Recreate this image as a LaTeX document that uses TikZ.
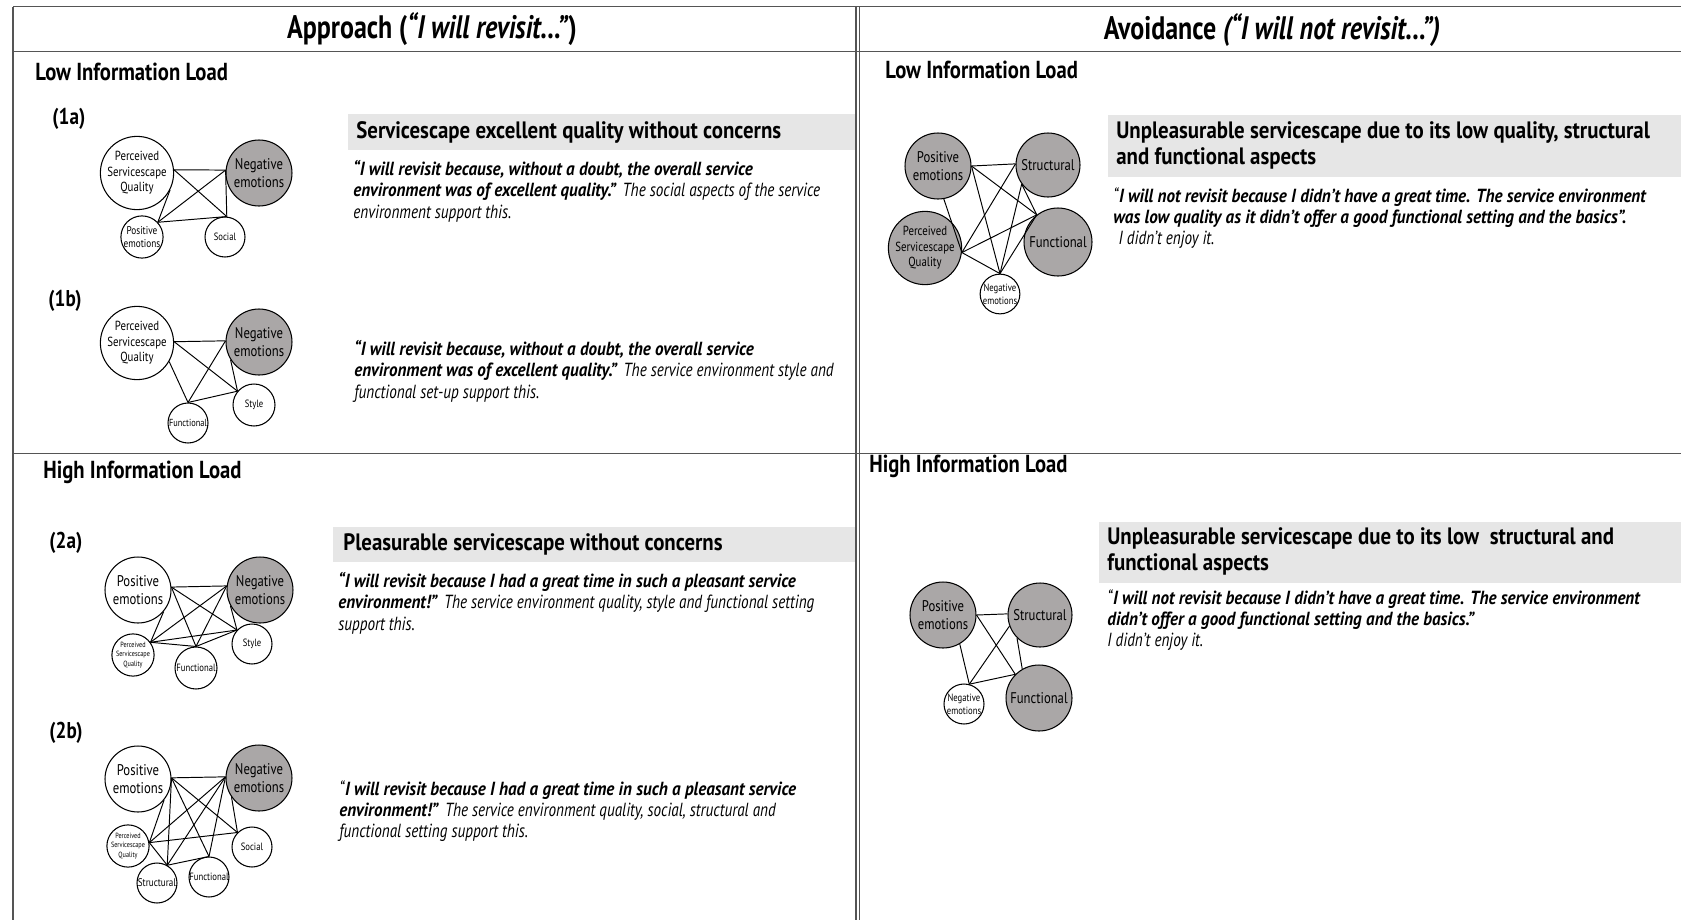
\documentclass[tikz,border=0pt]{standalone}
\usepackage{fontspec}
\setmainfont{PT Sans}[FakeStretch=0.76]
\newfontfamily\nf{PT Sans}[FakeStretch=0.82]
\newfontfamily\hdf{PT Sans}[FakeStretch=0.8]
\newfontfamily\secf{PT Sans}[FakeStretch=0.84]
\newfontfamily\ttlf{PT Sans}[FakeStretch=0.88]
\newfontfamily\bodyf{PT Sans}[FakeStretch=0.9]
\newfontfamily\litf{PT Sans}[FakeStretch=0.8]
\newcommand\bfit[1]{\textbf{\textit{#1}}}
\newcommand\lit[1]{{\litf\itshape #1}}
\definecolor{neggray}{RGB}{170,167,167}
\definecolor{boxgray}{RGB}{230,230,230}
\definecolor{rulec}{RGB}{85,85,85}
\begin{document}
\begin{tikzpicture}[x=0.02cm,y=-0.02cm,
  circ/.style={circle,draw=black,line width=0.6pt,inner sep=0pt,align=center,fill=white},
  ng/.style={fill=neggray},
  ln/.style={line width=0.55pt,black},
  rl/.style={line width=1pt,draw=rulec},
  hd/.style={font=\hdf\fontsize{18.5}{21}\selectfont\bfseries,inner sep=0pt},
  sec/.style={font=\secf\fontsize{14}{16}\selectfont\bfseries,anchor=west,inner sep=0pt},
  lab/.style={font=\secf\fontsize{13}{15}\selectfont\bfseries,anchor=west,inner sep=0pt},
  ttl/.style={font=\ttlf\fontsize{13.5}{15.2}\selectfont\bfseries,align=left,inner sep=0pt},
  body/.style={font=\bodyf\fontsize{10.8}{12.2}\selectfont,align=left,anchor=north west,inner sep=0pt},
  fbig/.style={font=\nf\fontsize{8.8}{10.4}\selectfont},
  fpsq/.style={font=\nf\fontsize{7.5}{8.9}\selectfont},
  fsm/.style={font=\nf\fontsize{6}{7}\selectfont},
  ftiny/.style={font=\nf\fontsize{4.3}{5.2}\selectfont},
]
\useasboundingbox (0,0) rectangle (1681,920);
% table rules
\draw[rl] (13,6.5) -- (1681,6.5);
\draw[rl] (13,51.5) -- (1681,51.5);
\draw[rl] (13,6.5) -- (13,920);
\draw[rl] (856,6.5) -- (856,920);
\draw[rl] (859.5,6.5) -- (859.5,920);
\draw[rl] (13,453.5) -- (1681,453.5);
% headers
\node[hd] (hl) at (432,29) {Approach (\textit{“I will revisit...”})};
\node[hd] (hr) at (1272,30) {Avoidance \textit{(“I will not revisit...”)}};
% section labels
\node[sec] (lowl) at (35,72) {Low Information Load};
\node[sec] (highl) at (43,472) {High Information Load};
\node[sec] (lowr) at (885,70) {Low Information Load};
\node[sec] (highr) at (869,466) {High Information Load};
\node[lab] (l1a) at (52,119) {(1a)};
\node[lab] (l1b) at (48,301) {(1b)};
\node[lab] (l2a) at (49,543) {(2a)};
\node[lab] (l2b) at (49,733) {(2b)};
% gray title boxes
\fill[boxgray] (348,114) rectangle (855,150);
\fill[boxgray] (333,527) rectangle (855,562);
\fill[boxgray] (1108,115) rectangle (1681,177);
\fill[boxgray] (1099,522) rectangle (1681,583);
\node[ttl,anchor=west] (t1) at (356,132) {Servicescape excellent quality without concerns};
\node[ttl,anchor=west] (t2) at (343,544) {Pleasurable servicescape without concerns};
\node[ttl,anchor=north west] (t3) at (1116,121) {Unpleasurable servicescape due to its low quality, structural\\and functional aspects};
\node[ttl,anchor=north west] (t4) at (1107,527) {Unpleasurable servicescape due to its low\ \ structural and\\functional aspects};
% body texts
\node[body] (b1) at (353,160) {\bfit{“I will revisit because, without a doubt, the overall service}\\\bfit{environment was of excellent quality.”} \lit{The social aspects of the service}\\\lit{environment support this.}};
\node[body] (b2) at (354,340) {\bfit{“I will revisit because, without a doubt, the overall service}\\\bfit{environment was of excellent quality.”} \lit{The service environment style and}\\\lit{functional set-up support this.}};
\node[body] (b3) at (338,572) {\bfit{“I will revisit because I had a great time in such a pleasant service}\\\bfit{environment!”} \lit{The service environment quality, style and functional setting}\\\lit{support this.}};
\node[body] (b4) at (339,780) {\lit{“}\bfit{I will revisit because I had a great time in such a pleasant service}\\\bfit{environment!”} \lit{The service environment quality, social, structural and}\\\lit{functional setting support this.}};
\node[body] (b5) at (1113,187) {\lit{“}\bfit{I will not revisit because I didn’t have a great time. The service environment}\\\bfit{was low quality as it didn’t offer a good functional setting and the basics”.}\\\hspace{3pt}\lit{I didn’t enjoy it.}};
\node[body] (b6) at (1107,589) {\lit{“}\bfit{I will not revisit because I didn’t have a great time. The service environment}\\\bfit{didn’t offer a good functional setting and the basics.”}\\\lit{I didn’t enjoy it.}};
% ---------- diagram 1a
\node[circ,fpsq,minimum size=1.32cm] (a1psq) at (137,173) {Perceived\\Servicescape\\Quality};
\node[circ,ng,fbig,minimum size=1.32cm] (a1neg) at (259,173) {Negative\\emotions};
\node[circ,font=\nf\fontsize{6.4}{7.4}\selectfont,minimum size=0.76cm] (a1pos) at (142,237) {Positive\\emotions};
\node[circ,fsm,minimum size=0.8cm] (a1soc) at (225,237) {Social};
\draw[ln] (a1psq.5) -- (a1neg.175);
\draw[ln] (a1psq.5) -- (a1soc.85);
\draw[ln] (a1psq.-27) -- (a1pos.43);
\draw[ln] (a1pos.43) -- (a1neg.175);
\draw[ln] (a1pos.43) -- (a1soc.85);
\draw[ln] (a1neg.175) -- (a1soc.85);
% ---------- diagram 1b
\node[circ,fpsq,minimum size=1.32cm] (b1psq) at (137,343) {Perceived\\Servicescape\\Quality};
\node[circ,ng,fbig,minimum size=1.32cm] (b1neg) at (259,342) {Negative\\emotions};
\node[circ,font=\nf\fontsize{5.8}{6.8}\selectfont,minimum size=0.8cm] (b1fun) at (188,423) {Functional};
\node[circ,fsm,minimum size=0.84cm] (b1sty) at (254,405) {Style};
\draw[ln] (b1psq.2) -- (b1neg.178);
\draw[ln] (b1psq.2) -- (b1sty.140);
\draw[ln] (b1psq.-30) -- (b1fun.90);
\draw[ln] (b1fun.90) -- (b1neg.178);
\draw[ln] (b1fun.90) -- (b1sty.140);
\draw[ln] (b1neg.212) -- (b1sty.140);
% ---------- diagram 2a
\node[circ,fbig,minimum size=1.32cm] (a2pos) at (138,590) {Positive\\emotions};
\node[circ,ng,fbig,minimum size=1.32cm] (a2neg) at (260,590) {Negative\\emotions};
\node[circ,ftiny,minimum size=0.68cm] (a2psq) at (133,655) {Perceived\\Servicescape\\Quality};
\node[circ,fsm,minimum size=0.84cm] (a2fun) at (196,668) {Functional};
\node[circ,fsm,minimum size=0.8cm] (a2sty) at (252,644) {Style};
\draw[ln] (a2pos.5) -- (a2neg.173);
\draw[ln] (a2pos.5) -- (a2sty.137);
\draw[ln] (a2pos.5) -- (a2fun.90);
\draw[ln] (a2pos.-40) -- (a2psq.36);
\draw[ln] (a2psq.36) -- (a2neg.173);
\draw[ln] (a2psq.36) -- (a2sty.137);
\draw[ln] (a2psq.36) -- (a2fun.90);
\draw[ln] (a2fun.90) -- (a2neg.173);
\draw[ln] (a2fun.90) -- (a2sty.137);
\draw[ln] (a2neg.208) -- (a2sty.137);
% ---------- diagram 2b
\node[circ,fbig,minimum size=1.32cm] (b2pos) at (138,779) {Positive\\emotions};
\node[circ,ng,fbig,minimum size=1.32cm] (b2neg) at (259,778) {Negative\\emotions};
\node[circ,ftiny,minimum size=0.76cm] (b2psq) at (128,846) {Perceived\\Servicescape\\Quality};
\node[circ,font=\nf\fontsize{6.3}{7.3}\selectfont,minimum size=0.8cm] (b2str) at (157,883) {Structural};
\node[circ,fsm,minimum size=0.8cm] (b2fun) at (209,877) {Functional};
\node[circ,fsm,minimum size=0.8cm] (b2soc) at (252,847) {Social};
\draw[ln] (b2pos.2) -- (b2neg.178);
\draw[ln] (b2pos.2) -- (b2str.60);
\draw[ln] (b2pos.2) -- (b2fun.90);
\draw[ln] (b2pos.2) -- (b2soc.135);
\draw[ln] (b2pos.-39) -- (b2psq.9);
\draw[ln] (b2psq.9) -- (b2neg.178);
\draw[ln] (b2psq.9) -- (b2soc.135);
\draw[ln] (b2psq.9) -- (b2str.60);
\draw[ln] (b2str.60) -- (b2neg.178);
\draw[ln] (b2str.60) -- (b2fun.90);
\draw[ln] (b2fun.90) -- (b2neg.178);
\draw[ln] (b2neg.215) -- (b2soc.135);
% ---------- diagram R1
\node[circ,ng,fbig,minimum size=1.32cm] (r1pos) at (938,166) {Positive\\emotions};
\node[circ,ng,fbig,minimum size=1.28cm] (r1str) at (1048,165) {Structural};
\node[circ,ng,fpsq,minimum size=1.36cm] (r1psq) at (925,248) {Perceived\\Servicescape\\Quality};
\node[circ,ng,fbig,minimum size=1.36cm] (r1fun) at (1058,242) {Functional};
\node[circ,font=\nf\fontsize{6}{7.2}\selectfont,minimum size=0.76cm] (r1neg) at (1000,294) {Negative\\emotions};
\draw[ln] (r1pos.0) -- (r1str.178);
\draw[ln] (r1pos.0) -- (r1fun.128);
\draw[ln] (r1pos.0) -- (r1neg.90);
\draw[ln] (r1pos.-80) -- (r1psq.-7);
\draw[ln] (r1str.178) -- (r1psq.-7);
\draw[ln] (r1str.216) -- (r1neg.90);
\draw[ln] (r1str.216) -- (r1fun.128);
\draw[ln] (r1psq.-7) -- (r1fun.128);
\draw[ln] (r1psq.-7) -- (r1neg.90);
\draw[ln] (r1fun.128) -- (r1neg.90);
% ---------- diagram R2
\node[circ,ng,fbig,minimum size=1.32cm] (r2pos) at (943,615) {Positive\\emotions};
\node[circ,ng,fbig,minimum size=1.28cm] (r2str) at (1040,615) {Structural};
\node[circ,font=\nf\fontsize{6}{7.2}\selectfont,minimum size=0.8cm] (r2neg) at (964,704) {Negative\\emotions};
\node[circ,ng,fbig,minimum size=1.32cm] (r2fun) at (1039,698) {Functional};
\draw[ln] (r2pos.0) -- (r2str.178);
\draw[ln] (r2pos.0) -- (r2fun.135);
\draw[ln] (r2pos.-60) -- (r2neg.75);
\draw[ln] (r2neg.75) -- (r2str.200);
\draw[ln] (r2str.225) -- (r2fun.120);
\draw[ln] (r2neg.75) -- (r2fun.135);
\end{tikzpicture}
\end{document}
